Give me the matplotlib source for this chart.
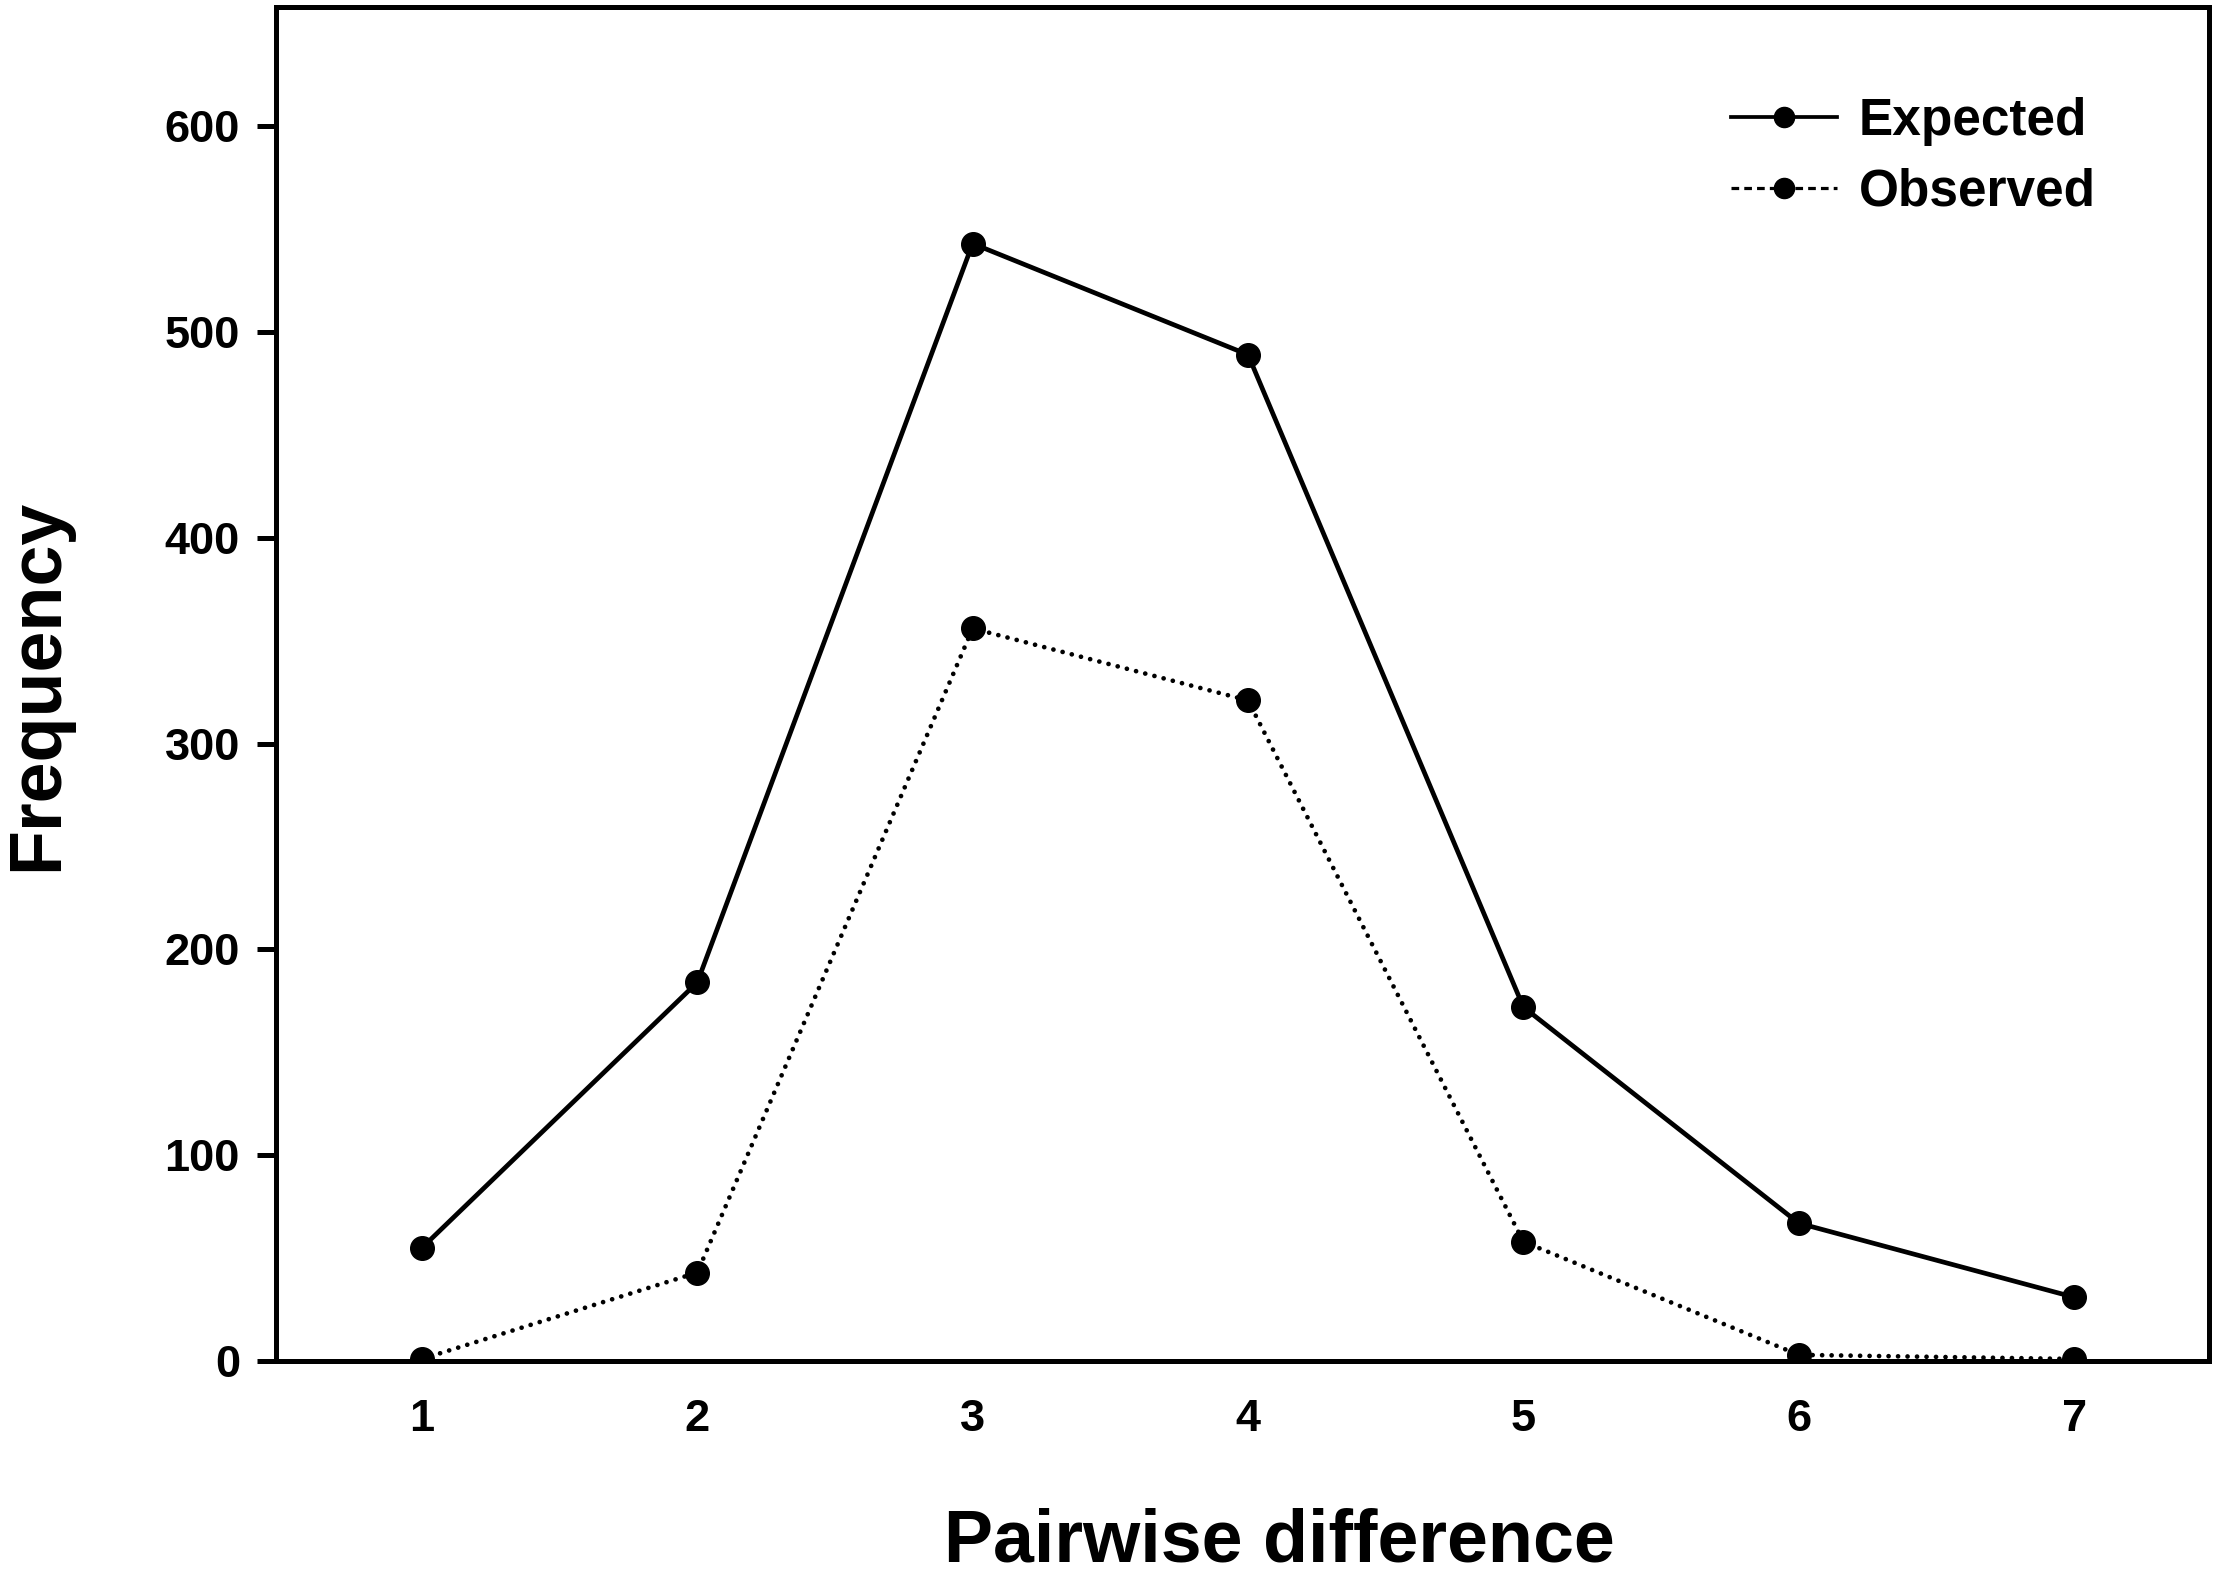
import matplotlib
matplotlib.use("Agg")
import matplotlib.pyplot as plt
from matplotlib.lines import Line2D

# data
diff = [1, 2, 3, 4, 5, 6, 7]
expected = [55, 184, 543, 489, 172, 67, 31]
observed = [1, 43, 356, 321, 58, 3, 1]

plt.rcParams['font.family'] = ['Liberation Sans', 'DejaVu Sans']
plt.rcParams['font.weight'] = 'bold'

fig = plt.figure(figsize=(22.17, 15.76), dpi=100)
ax = fig.add_axes([0.1245, 0.1364, 0.8719, 0.8592])

ax.plot(diff, expected, "k-", lw=3.4, marker="o", ms=17, zorder=3)
# round dots for the observed curve
ax.plot(diff, observed, color="k", ls=(0, (0.01, 2.0)), lw=3.4, marker="o", ms=17,
        dash_capstyle="round", zorder=3)

ax.set_xlim(0.47, 7.49)
ax.set_ylim(0, 658)
ax.set_xticks(diff)
ax.set_yticks(range(0, 601, 100))
ax.tick_params(axis="y", direction="out", length=14, width=3.6, labelsize=32.5, pad=12)
ax.tick_params(axis="x", length=0, labelsize=32.5, pad=27)
for s in ax.spines.values():
    s.set_linewidth(3.6)

# axis titles placed in figure coords
fig.text(0.577, 0.0089, "Pairwise difference", fontsize=53, fontweight="bold",
         ha="center", va="baseline")
fig.text(0.0171, 0.5654, "Frequency", fontsize=53, fontweight="bold",
         rotation=90, ha="center", va="center")

# legend: observed drawn dashed in the key
h_exp = Line2D([], [], color="k", ls="-", lw=2.7, marker="o", ms=14.5)
h_obs = Line2D([], [], color="k", ls=(0, (2.4, 1.6)), lw=2.3, marker="o", ms=14.5)
fig.legend([h_exp, h_obs], ["Expected", "Observed"], loc="upper left",
           bbox_to_anchor=(0.7808, 0.9385), frameon=False, fontsize=37,
           borderpad=0, borderaxespad=0, handlelength=2.07,
           handletextpad=0.41, labelspacing=0.42)

fig.savefig("out.png", dpi=100)
